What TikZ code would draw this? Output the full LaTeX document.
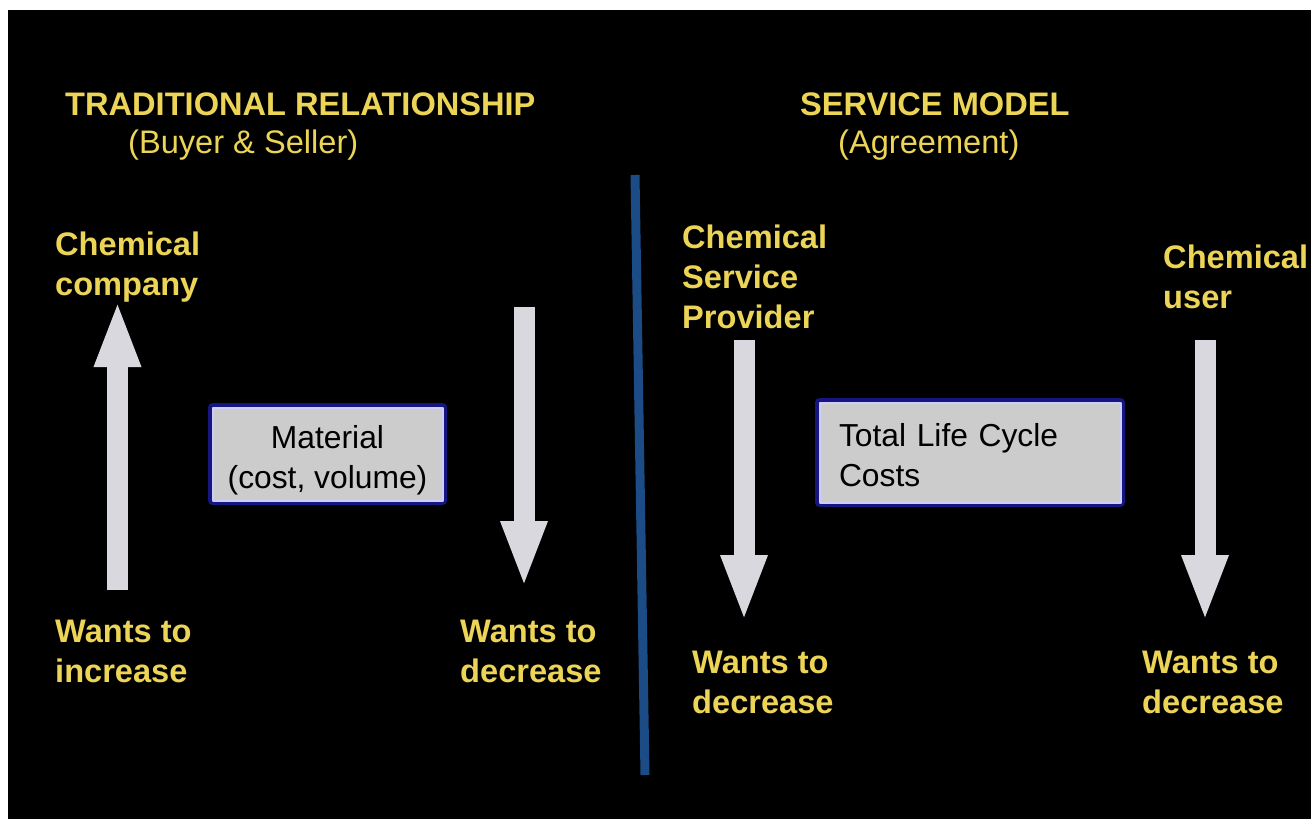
\documentclass[tikz,border=0pt]{standalone}
\usepackage{fontspec}
\setmainfont{Liberation Sans}
\usetikzlibrary{arrows.meta}
\definecolor{gold}{RGB}{236,212,86}
\definecolor{arrowgray}{RGB}{216,216,222}
\definecolor{boxgray}{RGB}{204,204,204}
\definecolor{boxrim}{RGB}{205,205,255}
\definecolor{boxblue}{RGB}{22,22,128}
\definecolor{divblue}{RGB}{28,76,134}
\begin{document}
\begin{tikzpicture}[x=1pt,y=-1pt,line join=round,
	lbl/.style={text=gold,font=\bfseries\fontsize{32.6}{40}\selectfont,align=left,inner sep=0pt,anchor=base west},
	sub/.style={text=gold,font=\fontsize{32.6}{40}\selectfont,inner sep=0pt,anchor=base west},
	bigarrow/.style={draw=arrowgray,line width=21pt,-{Triangle[width=42pt,length=67pt]}},
	costbox/.style={rectangle,fill=boxgray,draw=boxrim,line width=2pt,preaction={draw=boxblue,line width=9pt},inner sep=0pt,font=\fontsize{31.8}{40}\selectfont}]
				\fill[white] (0,0) rectangle (1311,819);
				\fill[black] (8,10) rectangle (1311,819);
				% headings
				\node[lbl] (trad) at (65,115) {TRADITIONAL RELATIONSHIP};
				\node[sub] (buyer) at (128,153) {(Buyer \& Seller)};
				\node[lbl] (serv) at (800,115) {SERVICE MODEL};
				\node[sub] (agree) at (838,153) {(Agreement)};
				% divider
				\coordinate (divtop) at (635,175);
				\coordinate (divbot) at (645,775);
				\draw[divblue,line width=9pt] (divtop)--(divbot);
				% labels (base = last line)
				\node[lbl] (company) at (55,295) {Chemical\\company};
				\node[lbl] (provider) at (682,328) {Chemical\\Service\\Provider};
				\node[lbl] (user) at (1163,308) {Chemical\\user};
				\node[lbl] (incL) at (55,682) {Wants to\\increase};
				\node[lbl] (decL) at (460,682) {Wants to\\decrease};
				\node[lbl] (decP) at (692,713) {Wants to\\decrease};
				\node[lbl] (decU) at (1142,713) {Wants to\\decrease};
				% boxes
				\node[costbox,minimum width=230pt,minimum height=93pt,align=center] (material) at (327.5,454) {\rule{0pt}{35pt}Material\\(cost, volume)};
				\node[costbox,minimum width=301pt,minimum height=100pt,text width=262pt,align=left] (tlcc) at (970,452.5) {\rule{0pt}{28pt}Total Life Cycle\\Costs};
				% arrows
				\coordinate (botc) at (117.5,590);
				\coordinate (tipc) at (117.5,300);
				\draw[bigarrow] (botc)--(tipc);
				\foreach \n/\x/\a/\b in {l/524/307/588,p/744/340/622,u/1205/340/622}{
					\coordinate (top\n) at (\x,\a);
					\coordinate (tip\n) at (\x,\b);
					\draw[bigarrow] (top\n)--(tip\n);
				}
			\end{tikzpicture}
\end{document}
